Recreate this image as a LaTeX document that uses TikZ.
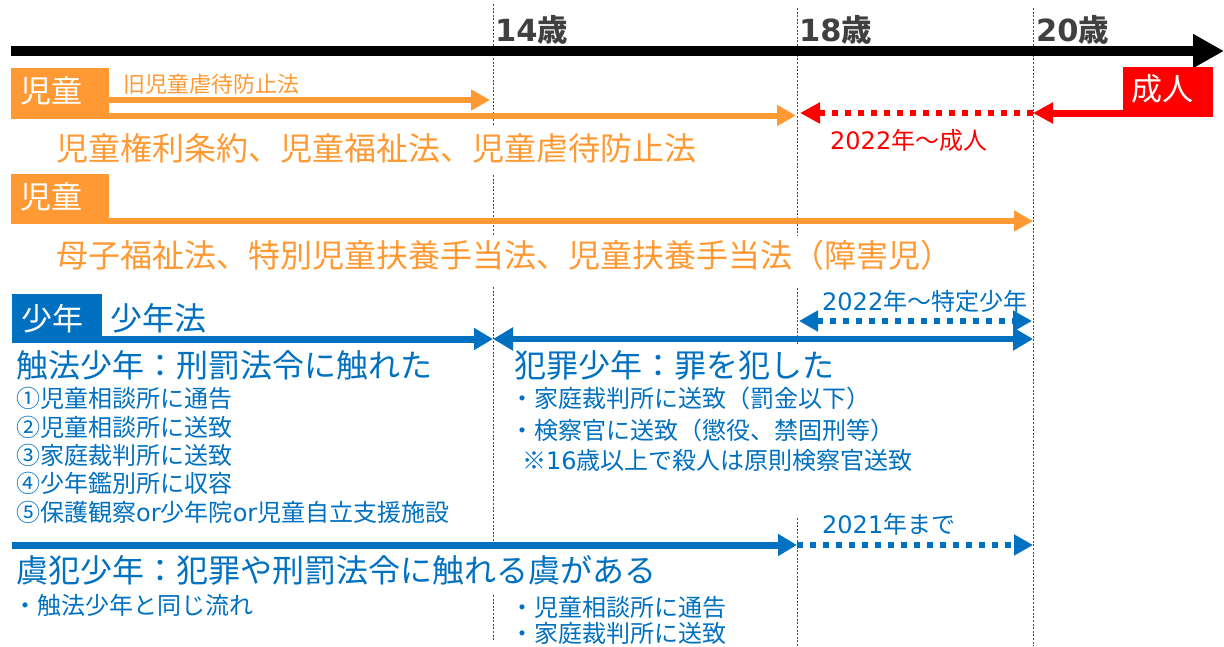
\documentclass[tikz,border=0pt]{standalone}
\usepackage{fontspec}
\setmainfont{Noto Sans CJK JP}
\newfontfamily\dvs{DejaVu Sans}
\usetikzlibrary{arrows.meta}
\definecolor{org}{HTML}{FF9933}
\definecolor{blu}{HTML}{0070C0}
\definecolor{rd}{HTML}{FF0000}
\definecolor{agec}{HTML}{404040}
\newcommand\fsBig{\fontsize{32}{36}\selectfont}
\newcommand\fsMid{\fontsize{24}{28}\selectfont}
\newcommand\fsSm{\fontsize{22}{26}\selectfont}
\newcommand\fsBox{\fontsize{31}{34}\selectfont}
\newcommand\fsAge{\fontsize{30.5}{34}\selectfont\bfseries}
\begin{document}
\begin{tikzpicture}[x=1pt,y=-1pt,
  txt/.style={anchor=west,inner sep=0pt},
  agelbl/.style={txt,text=agec,font=\fsAge},
  otxt/.style={txt,text=org},
  btxt/.style={txt,text=blu},
  tagbox/.style={anchor=north west,inner xsep=9pt,inner ysep=0pt,text=white,
    font=\fsBox,align=left,minimum height=45pt},
  vguide/.style={draw=black!70,line width=0.8pt,dash pattern=on 2pt off 1.6pt},
  axis/.style={draw=black,line width=10pt,-{Triangle[length=31pt,width=32pt]}},
  oarr/.style={draw=org,line width=6pt,-{Triangle[length=19pt,width=20pt]}},
  rarr/.style={draw=rd,line width=7pt,-{Triangle[length=20pt,width=20pt]}},
  rdot/.style={draw=rd,line width=6pt,dash pattern=on 6pt off 7pt,-{Triangle[length=20pt,width=20pt]}},
  barr/.style={draw=blu,line width=7pt,-{Triangle[length=19pt,width=21pt]}},
  bdbl/.style={draw=blu,line width=6pt,{Triangle[length=20pt,width=22pt]}-{Triangle[length=20pt,width=22pt]}},
  bdot/.style={draw=blu,line width=6pt,dash pattern=on 6pt off 7pt,-{Triangle[length=19pt,width=20pt]}},
  bdotdbl/.style={draw=blu,line width=6pt,dash pattern=on 6pt off 7pt,{Triangle[length=19pt,width=20pt]}-{Triangle[length=19pt,width=20pt]}}
]
\useasboundingbox (0,0) rectangle (1224,646);

% vertical guide lines
\draw[vguide] (493,4) -- (493,125);
\draw[vguide] (493,175) -- (493,235);
\draw[vguide] (493,287) -- (493,545);
\draw[vguide] (493,595) -- (493,640);
\draw[vguide] (797,8) -- (797,236);
\draw[vguide] (797,288) -- (797,345);
\draw[vguide] (797,518) -- (797,646);
\draw[vguide] (1033,8) -- (1033,646);

% age axis
\coordinate (axS) at (11,51);
\coordinate (axE) at (1224,51);
\draw[axis] (axS) -- (axE);
\node[agelbl] (a14) at (495,30) {{\dvs 14}歳};
\node[agelbl] (a18) at (799,30) {{\dvs 18}歳};
\node[agelbl] (a20) at (1036,30) {{\dvs 20}歳};

% row 1 : children (orange)
\node[tagbox,fill=org,text width=80pt] (kid1) at (11,68) {児童};
\coordinate (o1a) at (109,100);
\coordinate (o1b) at (490,100);
\draw[oarr] (o1a) -- (o1b);
\coordinate (o2a) at (11,115.5);
\coordinate (o2b) at (796,115.5);
\draw[oarr] (o2a) -- (o2b);
\node[otxt,font=\fsSm] (oldlaw) at (123,84) {旧児童虐待防止法};
\node[otxt,font=\fsBig] (law1) at (56,148) {児童権利条約、児童福祉法、児童虐待防止法};

% adult (red)
\node[tagbox,fill=rd,text width=74pt,inner xsep=8pt,minimum height=43pt] (adult) at (1123,67) {成人};
\coordinate (r1a) at (1213,113);
\coordinate (r1b) at (1033,113);
\coordinate (r2b) at (800,113);
\draw[rarr] (r1a) -- (r1b);
\draw[rdot] (r1b) -- (r2b);
\node[txt,text=rd,font=\fsMid] (adult22) at (830,140) {{\dvs 2022}年～成人};

% row 2 : children (orange)
\node[tagbox,fill=org,text width=80pt] (kid2) at (11,174) {児童};
\coordinate (o3a) at (11,221);
\coordinate (o3b) at (1033,221);
\draw[oarr] (o3a) -- (o3b);
\node[otxt,font=\fsBig] (law2) at (56,255) {母子福祉法、特別児童扶養手当法、児童扶養手当法（障害児）};

% juvenile (blue)
\node[tagbox,fill=blu,text width=72pt,minimum height=48pt] (juv) at (12,294) {少年};
\node[btxt,font=\fsBig] (juvlaw) at (110,318) {少年法};
\coordinate (b1a) at (12,339);
\coordinate (b1b) at (493,339);
\coordinate (b2) at (1033,339);
\draw[barr] (b1a) -- (b1b);
\draw[bdbl] (b1b) -- (b2);
\coordinate (b3a) at (799,321);
\coordinate (b3b) at (1032,321);
\draw[bdotdbl] (b3a) -- (b3b);
\node[btxt,font=\fsMid] (spec) at (822,301) {{\dvs 2022}年～特定少年};

\node[btxt,font=\fsBig] (shoku) at (16,365) {触法少年：刑罰法令に触れた};
\node[btxt,font=\fsMid] (s1) at (16,398) {①児童相談所に通告};
\node[btxt,font=\fsMid] (s2) at (16,427) {②児童相談所に送致};
\node[btxt,font=\fsMid] (s3) at (16,455) {③家庭裁判所に送致};
\node[btxt,font=\fsMid] (s4) at (16,483) {④少年鑑別所に収容};
\node[btxt,font=\fsMid] (s5) at (16,512) {⑤保護観察{\dvs or}少年院{\dvs or}児童自立支援施設};

\node[btxt,font=\fsBig] (hanz) at (514,365) {犯罪少年：罪を犯した};
\node[btxt,font=\fsMid] (h1) at (510,398) {・家庭裁判所に送致（罰金以下）};
\node[btxt,font=\fsMid] (h2) at (510,430) {・検察官に送致（懲役、禁固刑等）};
\node[btxt,font=\fsMid] (h3) at (522,460) {※{\dvs 16}歳以上で殺人は原則検察官送致};

\coordinate (b4a) at (12,545);
\coordinate (b4b) at (797,545);
\coordinate (b5) at (1033,545);
\draw[barr] (b4a) -- (b4b);
\draw[bdot] (b4b) -- (b5);
\node[btxt,font=\fsMid] (until) at (822,524) {{\dvs 2021}年まで};

\node[btxt,font=\fsBig] (guhan) at (16,570) {虞犯少年：犯罪や刑罰法令に触れる虞がある};
\node[btxt,font=\fsMid] (g1) at (13,605) {・触法少年と同じ流れ};
\node[btxt,font=\fsMid] (g2) at (510,607) {・児童相談所に通告};
\node[btxt,font=\fsMid] (g3) at (510,633) {・家庭裁判所に送致};
\end{tikzpicture}
\end{document}
